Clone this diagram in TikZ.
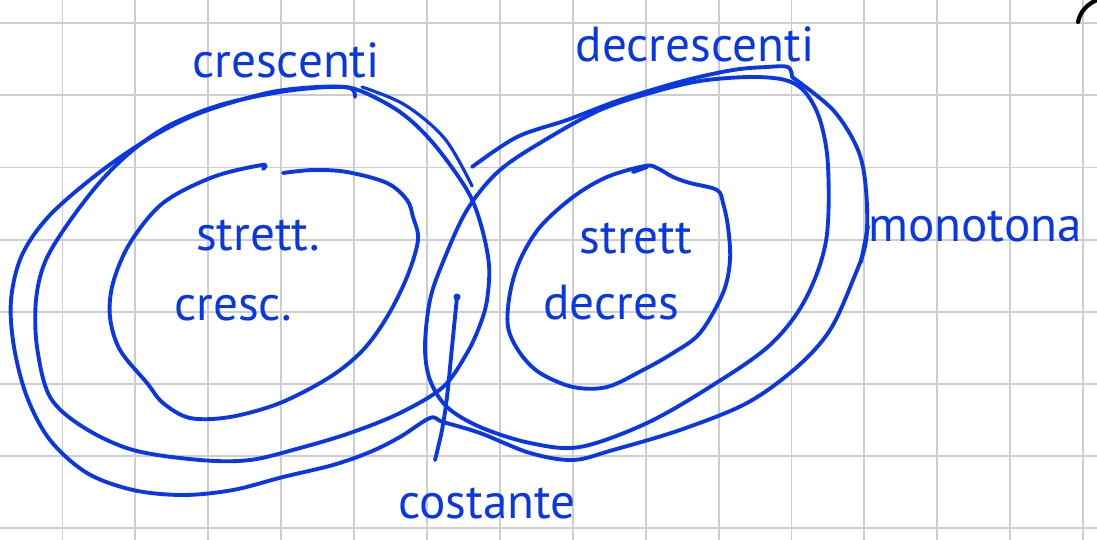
\documentclass[tikz,border=0pt]{standalone}
\usepackage{fontspec}
\setmainfont{PT Sans}
\begin{document}
\begin{tikzpicture}[x=0.02cm,y=-0.02cm,
  pen/.style={draw=penblue,line width=2.2pt,line cap=round,line join=round},
  thinpen/.style={draw=penblue,line width=1.8pt,line cap=round,line join=round},
  lbl/.style={text=penblue,inner sep=0pt,font=\fontsize{28}{28}\selectfont},
  gridline/.style={draw=gridgray,line width=1.1pt}]
\definecolor{penblue}{RGB}{10,55,230}
\definecolor{gridgray}{RGB}{205,205,205}
\useasboundingbox (0,0) rectangle (1097,540);
\fill[white] (0,0) rectangle (1097,540);
% grid
\foreach \i in {0,...,14} {\draw[gridline] ({62.5+72.9*\i},0) -- ({62.5+72.9*\i},540);}
\foreach \j in {0,...,7} {\draw[gridline] (0,{23.4+72.05*\j}) -- (1097,{23.4+72.05*\j});}
% outer "monotona" stroke
\draw[pen] plot[smooth,tension=0.55] coordinates {(472,167) (517,137) (567,120) (620,100) (683,81) (733,70) (767,67) (788,67) (792,77)};
\draw[pen] plot[smooth,tension=0.55] coordinates {(792,77) (833,110) (858,150) (866,190) (866,241) (853,280) (830,330) (797,367) (747,403) (680,430) (613,450) (573,460) (530,453) (480,433) (443,422) (430,418) (400,437) (370,452) (333,465) (283,477) (233,490) (183,495) (133,490) (87,473) (50,440) (27,397) (14,347) (11,300) (22,255) (50,215) (100,172) (150,138) (200,113) (267,93) (317,87) (350,88) (355,97)};
% crescenti
\draw[pen] plot[smooth cycle,tension=0.55] coordinates {(358,90) (400,112) (433,143) (467,190) (481,225) (489,265) (487,300) (480,325) (467,353) (443,387) (400,413) (350,433) (300,448) (250,460) (200,460) (133,450) (83,427) (50,397) (37,347) (36,300) (45,262) (67,225) (100,182) (133,150) (170,125) (220,105) (280,92) (330,87)};
\draw[thinpen] plot[smooth,tension=0.55] coordinates {(362,87) (405,105) (445,139) (472,186)};
% decrescenti
\draw[pen] plot[smooth cycle,tension=0.55] coordinates {(430,300) (443,262) (467,210) (500,170) (550,137) (600,110) (650,93) (700,81) (750,77) (785,80) (805,92) (820,120) (828,166) (826,241) (805,300) (770,345) (713,385) (647,423) (580,447) (530,443) (480,427) (447,407) (430,380) (425,347)};
% strettamente crescenti
\draw[pen] plot[smooth,tension=0.55] coordinates {(263,169) (262,165) (213,177) (163,203) (130,243) (113,283) (110,317) (120,350) (147,383) (163,403) (190,418) (230,417) (280,403) (330,377) (363,350) (387,317) (407,277) (418,240) (413,217) (407,200) (387,183) (347,172) (313,170) (283,173)};
% strettamente decrescenti
\draw[pen] plot[smooth cycle,tension=0.55] coordinates {(645,166) (607,177) (573,197) (540,227) (520,260) (510,293) (508,327) (520,353) (540,373) (573,387) (607,387) (643,370) (673,353) (700,333) (723,293) (730,260) (728,227) (723,203) (717,190) (690,183) (673,177) (657,168)};
\draw[pen] (633,172) -- (647,167);
% costante pointer
\coordinate (cdot) at (457,297);
\coordinate (cend) at (435,460);
\fill[penblue] (cdot) circle (3.5);
\draw[pen] plot[smooth,tension=0.5] coordinates {(cdot) (452,347) (447,397) (442,430) (cend)};
% labels
\node[lbl] (cresc) at (286,60) {crescenti};
\node[lbl] (decresc) at (695,44) {decrescenti};
\node[lbl] (sc1) at (258,235) {strett.};
\node[lbl] (sc2) at (233,308) {cresc.};
\node[lbl] (sd1) at (636,238) {strett};
\node[lbl] (sd2) at (611,303) {decres};
\node[lbl] (cost) at (487,503) {costante};
\node[lbl,anchor=west] (mono) at (868,226) {monotona};
\coordinate (mlow) at (861,262);
\draw[pen] (mlow) -- (mono.west);
% partial mark at top right corner
\draw[black,line width=2.4pt,line cap=round] (1078,22) .. controls (1080,12) and (1087,4) .. (1097,0);
\end{tikzpicture}
\end{document}
